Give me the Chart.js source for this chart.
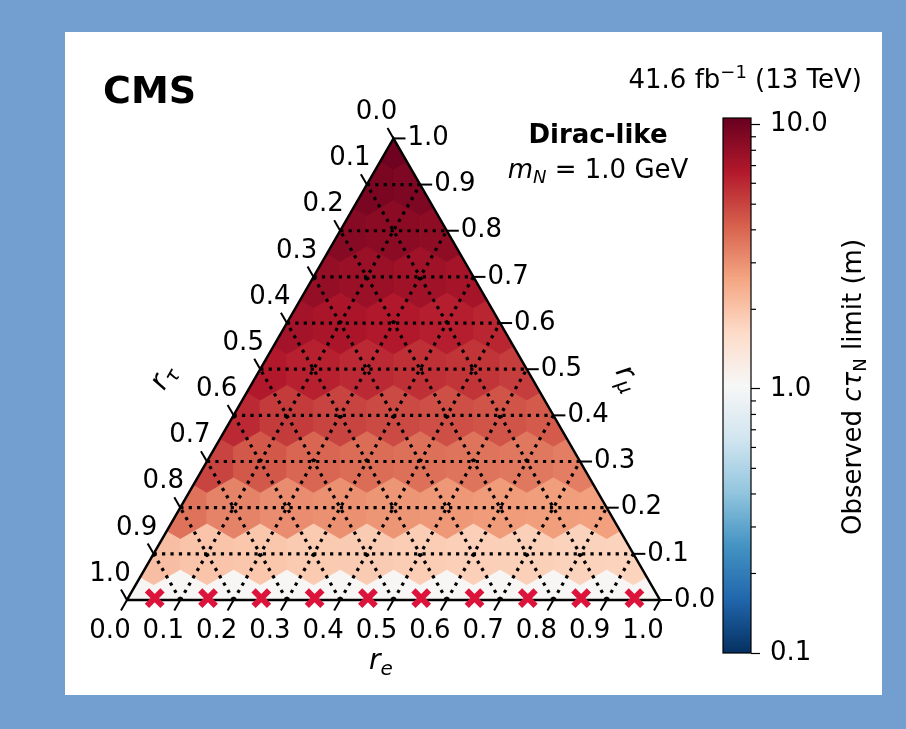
<!DOCTYPE html>
<html>
<head>
<meta charset="utf-8">
<script src="https://cdn.jsdelivr.net/npm/chart.js@4.4.1/dist/chart.umd.min.js"></script>
<style>
  html, body { margin: 0; padding: 0; background: #729fcf; }
  canvas { display: block; }
</style>
</head>
<body>
<canvas id="c" width="906" height="729"></canvas>
<script>
const SQ3 = Math.sqrt(3);

// Ternary grid levels and their tick labels
const gridLevels = [0.0, 0.1, 0.2, 0.3, 0.4, 0.5, 0.6, 0.7, 0.8, 0.9, 1.0];
const tickLabels = ['0.0', '0.1', '0.2', '0.3', '0.4', '0.5', '0.6', '0.7', '0.8', '0.9', '1.0'];

// Observed c*tau_N limits (m); one array per r_mu row, running r_e = 0, 0.1, ... , 1 - r_mu
const limitMu00 = [1.06, 1.05, 1.05, 1.05, 1.05, 1.05, 1.05, 1.05, 1.05, 1.05, 1.05];
const limitMu01 = [2.1, 2.0, 1.95, 1.9, 1.88, 1.85, 1.82, 1.8, 1.78, 1.75];
const limitMu02 = [3.7, 3.3, 3.1, 3.0, 2.9, 2.85, 2.8, 2.75, 2.7];
const limitMu03 = [5.0, 4.4, 4.0, 3.85, 3.75, 3.65, 3.55, 3.4];
const limitMu04 = [5.9, 5.3, 5.0, 4.8, 4.65, 4.5, 4.3];
const limitMu05 = [6.7, 6.3, 5.9, 5.7, 5.5, 5.2];
const limitMu06 = [7.3, 7.0, 6.7, 6.4, 6.1];
const limitMu07 = [8.0, 7.7, 7.5, 7.2];
const limitMu08 = [8.7, 8.5, 8.3];
const limitMu09 = [9.4, 9.2];
const limitMu10 = [10.1];
const limitRows = [limitMu00, limitMu01, limitMu02, limitMu03, limitMu04, limitMu05,
                   limitMu06, limitMu07, limitMu08, limitMu09, limitMu10];

// Points on the r_mu = 0 edge marked as excluded
const crossRe = [0.05, 0.15, 0.25, 0.35, 0.45, 0.55, 0.65, 0.75, 0.85, 0.95];

// Colour bar range and its tick values
const cbMin = 0.1;
const cbMax = 10.6;
const cbMajor = [0.1, 1, 10];
const cbMinor = [0.2, 0.3, 0.4, 0.5, 0.6, 0.7, 0.8, 0.9, 2, 3, 4, 5, 6, 7, 8, 9];

// ternary (r_e, r_mu) -> cartesian plane
const cart = (re, mu) => ({ x: re + mu / 2, y: mu * SQ3 / 2 });

const hexCells = [];
limitRows.forEach((row, i) => {
  row.forEach((v, j) => hexCells.push({ re: j / 10, mu: i / 10, v }));
});

// RdBu_r colour map
const rdbuStops = ['#053061', '#2166ac', '#4393c3', '#92c5de', '#d1e5f0', '#f7f7f7',
                   '#fddbc7', '#f4a582', '#d6604d', '#b2182b', '#67001f'];
const hexToRgb = h => [1, 3, 5].map(i => parseInt(h.substr(i, 2), 16));
const rdbuRgb = rdbuStops.map(hexToRgb);
function rdbuR(t) {
  t = Math.max(0, Math.min(1, t));
  const s = t * 10;
  const i = Math.min(9, Math.floor(s));
  const f = s - i;
  const a = rdbuRgb[i], b = rdbuRgb[i + 1];
  const c = a.map((av, k) => Math.round(av + (b[k] - av) * f));
  return `rgb(${c[0]},${c[1]},${c[2]})`;
}
function colourFor(cb, v) {
  const t = (cb.bottom - cb.getPixelForValue(v)) / (cb.bottom - cb.top);
  return rdbuR(t);
}

const FONT = '"DejaVu Sans"';
const font = (size, style = '') => `${style} ${size}px ${FONT}`;

function drawRich(ctx, parts, x, y, align) {
  let w = 0;
  parts.forEach(p => { ctx.font = p.font; w += ctx.measureText(p.text).width; });
  let cx = align === 'center' ? x - w / 2 : align === 'right' ? x - w : x;
  ctx.textAlign = 'left';
  parts.forEach(p => {
    ctx.font = p.font;
    ctx.fillText(p.text, cx, y + (p.dy || 0));
    cx += ctx.measureText(p.text).width;
  });
}

// Page frame
const framePlugin = {
  id: 'frame',
  beforeDraw(chart) {
    const ctx = chart.ctx;
    ctx.save();
    ctx.fillStyle = '#729fcf';
    ctx.fillRect(0, 0, chart.width, chart.height);
    ctx.fillStyle = '#ffffff';
    ctx.fillRect(65, 32, 817, 663);
    ctx.restore();
  }
};

// Hexagonal cells, clipped to the triangle, plus the colour bar
const cellPlugin = {
  id: 'cells',
  beforeDatasetsDraw(chart) {
    const ctx = chart.ctx;
    const xs = chart.scales.x, ys = chart.scales.y, cb = chart.scales.cb;
    const P = p => [xs.getPixelForValue(p.x), ys.getPixelForValue(p.y)];
    const corners = [cart(0, 0), cart(1, 0), cart(0, 1)].map(P);
    ctx.save();
    ctx.beginPath();
    corners.forEach((c, i) => i ? ctx.lineTo(c[0], c[1]) : ctx.moveTo(c[0], c[1]));
    ctx.closePath();
    ctx.clip();
    const R = 0.1 / SQ3;
    hexCells.forEach(cell => {
      const c = cart(cell.re, cell.mu);
      ctx.beginPath();
      for (let k = 0; k < 6; k++) {
        const a = Math.PI / 2 + k * Math.PI / 3;
        const p = P({ x: c.x + R * Math.cos(a), y: c.y + R * Math.sin(a) });
        k ? ctx.lineTo(p[0], p[1]) : ctx.moveTo(p[0], p[1]);
      }
      ctx.closePath();
      const col = colourFor(cb, cell.v);
      ctx.fillStyle = col;
      ctx.strokeStyle = col;
      ctx.lineWidth = 1;
      ctx.fill();
      ctx.stroke();
    });
    ctx.restore();

    // colour bar
    const barW = 28;
    const x0 = cb.left - barW;
    ctx.save();
    for (let y = Math.floor(cb.top); y < Math.ceil(cb.bottom); y++) {
      const v = cb.getValueForPixel(y + 0.5);
      ctx.fillStyle = colourFor(cb, v);
      ctx.fillRect(x0, y, barW, 1);
    }
    ctx.strokeStyle = '#000';
    ctx.lineWidth = 1.2;
    ctx.strokeRect(x0, cb.top, barW, cb.bottom - cb.top);
    cbMinor.forEach(v => {
      const y = cb.getPixelForValue(v);
      ctx.beginPath();
      ctx.moveTo(cb.left, y);
      ctx.lineTo(cb.left + 5, y);
      ctx.stroke();
    });
    ctx.restore();
  }
};

// Ternary ticks, tick labels and all text
const axisPlugin = {
  id: 'ternaryAxes',
  afterDatasetsDraw(chart) {
    const ctx = chart.ctx;
    const xs = chart.scales.x, ys = chart.scales.y;
    const P = p => [xs.getPixelForValue(p.x), ys.getPixelForValue(p.y)];
    const tl = 12;
    ctx.save();
    ctx.strokeStyle = '#000';
    ctx.fillStyle = '#000';
    ctx.lineWidth = 2;
    ctx.font = font(26);
    ctx.textBaseline = 'middle';
    gridLevels.forEach((k, i) => {
      // r_e on the bottom edge
      let p = P(cart(k, 0));
      ctx.beginPath();
      ctx.moveTo(p[0], p[1]);
      ctx.lineTo(p[0] - 0.5 * tl, p[1] + 0.866 * tl);
      ctx.stroke();
      ctx.textAlign = 'center';
      ctx.fillText(tickLabels[i], p[0] - 17, p[1] + 31);
      // r_mu on the right edge
      p = P(cart(1 - k, k));
      ctx.beginPath();
      ctx.moveTo(p[0], p[1]);
      ctx.lineTo(p[0] + tl, p[1]);
      ctx.stroke();
      ctx.textAlign = 'left';
      ctx.fillText(tickLabels[i], p[0] + 14, p[1]);
      // r_tau on the left edge
      p = P(cart(0, 1 - k));
      ctx.beginPath();
      ctx.moveTo(p[0], p[1]);
      ctx.lineTo(p[0] - 0.5 * tl, p[1] - 0.866 * tl);
      ctx.stroke();
      ctx.textAlign = 'center';
      ctx.fillText(tickLabels[i], p[0] - 17, p[1] - 26);
    });

    ctx.textBaseline = 'alphabetic';
    // axis titles
    drawRich(ctx, [
      { text: 'r', font: font(28, 'italic') },
      { text: 'e', font: font(20, 'italic'), dy: 6 }
    ], 381, 669, 'center');

    ctx.save();
    ctx.translate(163, 377);
    ctx.rotate(-Math.PI / 3);
    drawRich(ctx, [
      { text: 'r', font: font(28, 'italic') },
      { text: 'τ', font: font(20, 'italic'), dy: 6 }
    ], 0, 8, 'center');
    ctx.restore();

    ctx.save();
    ctx.translate(628, 378);
    ctx.rotate(Math.PI / 3);
    drawRich(ctx, [
      { text: 'r', font: font(28, 'italic') },
      { text: 'μ', font: font(20, 'italic'), dy: 6 }
    ], 0, 8, 'center');
    ctx.restore();

    // header texts
    ctx.font = font(38, 'bold');
    ctx.textAlign = 'left';
    ctx.fillText('CMS', 103, 103);

    drawRich(ctx, [
      { text: '41.6 fb', font: font(26) },
      { text: '−1', font: font(18), dy: -10 },
      { text: ' (13 TeV)', font: font(26) }
    ], 862, 88, 'right');

    ctx.font = font(26, 'bold');
    ctx.textAlign = 'center';
    ctx.fillText('Dirac-like', 598, 143);

    drawRich(ctx, [
      { text: 'm', font: font(26, 'italic') },
      { text: 'N', font: font(18, 'italic'), dy: 5 },
      { text: ' = 1.0 GeV', font: font(26) }
    ], 598, 178, 'center');

    // colour bar title
    ctx.save();
    ctx.translate(861, 387);
    ctx.rotate(-Math.PI / 2);
    drawRich(ctx, [
      { text: 'Observed ', font: font(26) },
      { text: 'cτ', font: font(26, 'italic') },
      { text: 'N', font: font(18), dy: 5 },
      { text: ' limit (m)', font: font(26) }
    ], 0, 0, 'center');
    ctx.restore();

    ctx.restore();
  }
};

// Dotted ternary grid lines
const gridSets = [];
for (let i = 1; i < gridLevels.length - 1; i++) {
  const k = gridLevels[i];
  const segs = [
    [cart(0, k), cart(1 - k, k)],      // constant r_mu
    [cart(k, 0), cart(k, 1 - k)],      // constant r_e
    [cart(1 - k, 0), cart(0, 1 - k)]   // constant r_tau
  ];
  segs.forEach(s => gridSets.push({
    data: s,
    showLine: true,
    borderColor: '#000',
    borderWidth: 3.2,
    borderDash: [3.2, 5.2],
    pointRadius: 0,
    fill: false,
    order: 3
  }));
}

const datasets = [
  {
    data: crossRe.map(r => cart(r, 0.004)),
    showLine: false,
    pointStyle: 'crossRot',
    pointRadius: 11,
    pointBorderWidth: 6,
    pointBorderColor: '#dc143c',
    pointBackgroundColor: '#dc143c',
    order: 0
  },
  {
    data: [cart(0, 0), cart(1, 0), cart(0, 1), cart(0, 0)],
    showLine: true,
    borderColor: '#000',
    borderWidth: 2.5,
    borderJoinStyle: 'miter',
    pointRadius: 0,
    fill: false,
    order: 1
  },
  ...gridSets
];

new Chart(document.getElementById('c'), {
  type: 'scatter',
  data: { datasets },
  options: {
    responsive: false,
    animation: false,
    devicePixelRatio: 1,
    events: [],
    layout: { padding: { left: 65, top: 118, right: 75, bottom: 76 } },
    plugins: { legend: { display: false }, tooltip: { enabled: false } },
    scales: {
      x: { type: 'linear', min: -0.11632, max: 1.17073, display: false },
      y: { type: 'linear', min: -0.09944, max: 0.90432, display: false },
      cb: {
        type: 'logarithmic',
        axis: 'y',
        position: 'right',
        min: cbMin,
        max: cbMax,
        afterBuildTicks: scale => { scale.ticks = cbMajor.map(v => ({ value: v })); },
        afterFit: scale => { scale.width = 80; },
        border: { display: false },
        grid: { drawOnChartArea: false, tickLength: 9, tickWidth: 1.2, tickColor: '#000' },
        ticks: {
          color: '#000',
          padding: 10,
          font: { family: 'DejaVu Sans', size: 26 },
          callback: v => Number(v).toFixed(1)
        }
      }
    }
  },
  plugins: [framePlugin, cellPlugin, axisPlugin]
});
</script>
</body>
</html>
